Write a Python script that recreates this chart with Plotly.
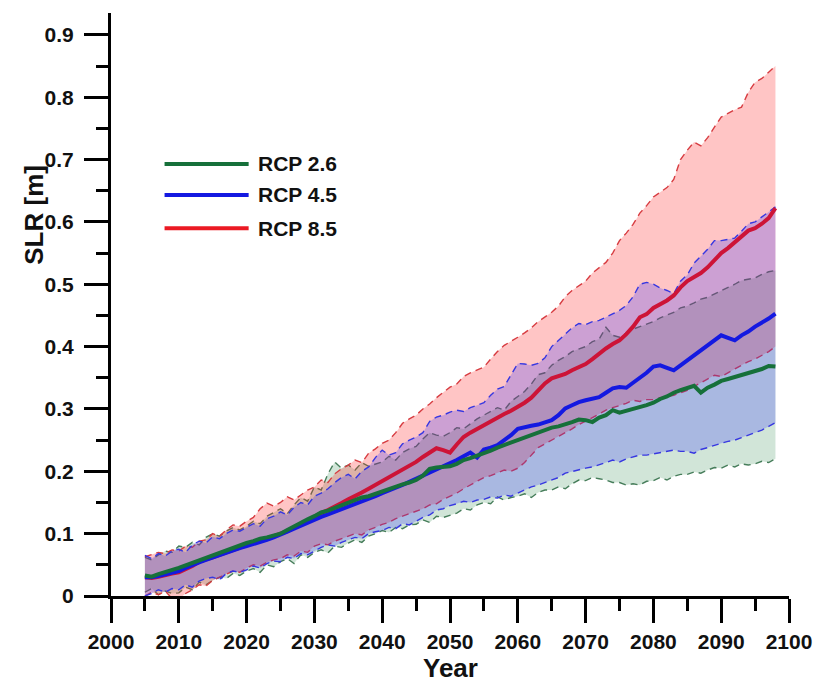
import plotly.graph_objects as go

years = list(range(2005, 2099))

g_mid = [.033, .031, .035, .038, .041,
         .045, .049, .053, .058, .062, .065, .070, .073, .077, .082,
         .085, .088, .092, .094, .097, .100, .106, .112, .117, .123,
         .128, .134, .137, .141, .146, .150, .153, .158, .160, .164,
         .168, .171, .176, .179, .182, .186, .193, .204, .206, .207,
         .208, .212, .218, .221, .225, .228, .233, .238, .242, .246,
         .250, .255, .259, .263, .267, .270, .272, .275, .279, .283,
         .282, .279, .286, .290, .298, .294, .297, .299, .303, .306,
         .310, .316, .320, .326, .330, .333, .337, .326, .334, .339,
         .345, .348, .351, .354, .357, .360, .364, .369, .368]
g_hi = [.062, .058, .066, .072, .070,
        .080, .078, .086, .082, .094, .100, .096, .104, .110, .106,
        .112, .120, .116, .128, .134, .140, .132, .146, .158, .152,
        .175, .170, .196, .215, .205, .210, .202, .214, .208, .212,
        .215, .224, .218, .230, .236, .240, .252, .262, .258, .256,
        .262, .270, .268, .276, .284, .290, .296, .302, .298, .312,
        .320, .328, .340, .355, .358, .370, .378, .384, .392, .396,
        .400, .408, .412, .431, .418, .415, .422, .428, .432, .436,
        .440, .446, .450, .455, .462, .465, .470, .476, .479, .484,
        .490, .494, .500, .506, .508, .510, .516, .520, .522]
g_lo = [.006, .012, .002, .008, .004,
        .005, .014, .010, .022, .018, .025, .030, .028, .036, .033,
        .040, .044, .038, .050, .047, .055, .060, .052, .066, .062,
        .070, .074, .069, .080, .078, .085, .090, .086, .096, .100,
        .105, .102, .110, .108, .114, .115, .122, .118, .128, .126,
        .130, .133, .140, .138, .146, .150, .148, .159, .154, .158,
        .160, .164, .158, .166, .170, .170, .175, .172, .180, .186,
        .185, .190, .188, .186, .182, .182, .178, .180, .178, .184,
        .185, .190, .186, .192, .195, .195, .199, .197, .202, .206,
        .205, .210, .207, .212, .210, .212, .216, .214, .220]

b_mid = [.030, .030, .032, .035, .038,
         .040, .045, .050, .054, .058, .062, .066, .070, .074, .077,
         .080, .083, .086, .090, .094, .098, .103, .108, .113, .118,
         .122, .127, .131, .135, .139, .143, .147, .152, .156, .160,
         .165, .169, .174, .178, .183, .188, .193, .198, .203, .207,
         .212, .218, .224, .230, .222, .235, .238, .242, .250, .258,
         .268, .271, .273, .275, .279, .282, .290, .301, .306, .311,
         .314, .316, .319, .326, .333, .335, .334, .342, .350, .358,
         .368, .370, .366, .362, .370, .378, .386, .394, .402, .410,
         .418, .414, .410, .418, .424, .432, .438, .445, .453]
b_hi = [.065, .060, .068, .064, .072,
        .075, .070, .082, .088, .085, .095, .092, .100, .106, .104,
        .110, .116, .112, .124, .128, .135, .130, .142, .150, .146,
        .160, .165, .172, .182, .190, .195, .188, .200, .207, .222,
        .234, .226, .230, .244, .250, .255, .262, .280, .287, .290,
        .295, .298, .296, .302, .306, .310, .322, .332, .336, .354,
        .373, .372, .370, .373, .382, .400, .410, .420, .430, .437,
        .435, .440, .442, .447, .452, .458, .466, .480, .500, .503,
        .500, .494, .490, .485, .505, .515, .534, .545, .556, .570,
        .570, .572, .574, .585, .597, .600, .608, .615, .624]
b_lo = [.000, .004, .010, .006, .012,
        .010, .018, .014, .024, .028, .030, .026, .036, .040, .038,
        .042, .048, .045, .052, .056, .055, .062, .060, .068, .066,
        .072, .078, .082, .080, .086, .090, .094, .092, .100, .103,
        .105, .110, .108, .116, .114, .120, .126, .130, .138, .140,
        .145, .148, .152, .150, .154, .155, .159, .157, .162, .160,
        .165, .170, .175, .178, .182, .185, .190, .197, .200, .203,
        .205, .207, .210, .214, .218, .215, .220, .223, .226, .226,
        .228, .230, .232, .234, .232, .232, .229, .235, .238, .242,
        .245, .248, .250, .254, .258, .262, .266, .272, .278]

r_mid = [.030, .029, .031, .034, .036,
         .038, .043, .048, .055, .058, .062, .066, .070, .074, .078,
         .082, .085, .089, .092, .096, .100, .104, .110, .116, .122,
         .128, .133, .138, .143, .149, .155, .160, .166, .172, .178,
         .185, .190, .196, .203, .209, .215, .223, .230, .237, .234,
         .230, .243, .255, .262, .268, .275, .280, .286, .292, .297,
         .303, .310, .318, .330, .341, .349, .352, .356, .362, .367,
         .372, .380, .389, .397, .404, .410, .420, .432, .447, .452,
         .462, .468, .474, .482, .495, .505, .511, .518, .527, .538,
         .550, .558, .568, .578, .586, .590, .597, .606, .622]
r_hi = [.063, .066, .070, .068, .074,
        .072, .080, .078, .088, .090, .100, .096, .106, .114, .112,
        .120, .126, .140, .149, .144, .150, .159, .154, .162, .170,
        .175, .186, .182, .196, .204, .210, .218, .214, .229, .236,
        .245, .250, .262, .277, .284, .290, .300, .308, .318, .326,
        .335, .340, .352, .358, .362, .367, .380, .392, .402, .408,
        .415, .422, .430, .440, .447, .455, .465, .480, .490, .498,
        .505, .518, .527, .535, .550, .570, .582, .596, .614, .626,
        .640, .648, .655, .668, .700, .715, .728, .722, .735, .752,
        .768, .774, .780, .784, .808, .824, .830, .840, .850]
r_lo = [.000, .006, .002, .008, -.004,
        -.005, .004, .010, .018, .016, .025, .030, .034, .040, .038,
        .045, .050, .048, .054, .058, .060, .066, .064, .072, .070,
        .080, .084, .082, .088, .092, .095, .100, .098, .106, .110,
        .115, .118, .124, .128, .132, .135, .140, .146, .148, .155,
        .160, .165, .172, .178, .184, .190, .193, .198, .202, .200,
        .205, .214, .226, .238, .244, .250, .256, .261, .268, .275,
        .280, .286, .292, .298, .302, .305, .309, .314, .312, .315,
        .315, .318, .320, .322, .326, .330, .336, .342, .348, .354,
        .352, .358, .364, .370, .376, .380, .386, .392, .400]

labels = ["RCP 2.6", "RCP 4.5", "RCP 8.5"]
x_ticks = list(range(2000, 2101, 10))

FONT = "Liberation Sans, Arial, sans-serif"

fig = go.Figure()

bands = [
    (g_lo, g_hi, "rgba(70,150,100,0.25)", "rgb(70,125,90)"),
    (r_lo, r_hi, "rgba(255,40,40,0.27)", "rgb(215,60,65)"),
    (b_lo, b_hi, "rgba(40,40,255,0.24)", "rgb(55,55,225)"),
]
for lo, hi, fillc, linec in bands:
    fig.add_trace(go.Scatter(x=years, y=lo, mode="lines",
                             line=dict(color=linec, width=1.4, dash="7px,5px"),
                             showlegend=False, hoverinfo="skip"))
    fig.add_trace(go.Scatter(x=years, y=hi, mode="lines", fill="tonexty",
                             fillcolor=fillc,
                             line=dict(color=linec, width=1.4, dash="7px,5px"),
                             showlegend=False, hoverinfo="skip"))

means = [
    (r_mid, "rgb(205,20,55)"),
    (b_mid, "rgb(20,25,225)"),
    (g_mid, "rgb(22,112,58)"),
]
for y, c in means:
    fig.add_trace(go.Scatter(x=years, y=y, mode="lines",
                             line=dict(color=c, width=4),
                             showlegend=False))

# custom legend
leg_colors = ["rgb(22,112,58)", "rgb(20,25,225)", "rgb(235,25,35)"]
leg_y = [0.741, 0.688, 0.631]
for lab, c, yy in zip(labels, leg_colors, leg_y):
    fig.add_shape(type="line", xref="paper", yref="paper",
                  x0=0.079, x1=0.203, y0=yy, y1=yy,
                  line=dict(color=c, width=4))
    fig.add_annotation(x=0.214, y=yy, xref="paper", yref="paper",
                       text=lab, showarrow=False, xanchor="left", yanchor="middle",
                       font=dict(family=FONT, size=21, color="#111", weight="bold"))

fig.add_annotation(x=0.5, y=-0.123, xref="paper", yref="paper", text="Year",
                   showarrow=False, xanchor="center", yanchor="middle",
                   font=dict(family=FONT, size=26, color="#111", weight="bold"))
fig.add_annotation(x=-0.114, y=0.6535, xref="paper", yref="paper", text="SLR [m]",
                   showarrow=False, textangle=-90, xanchor="center", yanchor="middle",
                   font=dict(family=FONT, size=26, color="#111", weight="bold"))

axis_common = dict(showline=True, linecolor="black", linewidth=3, mirror=False,
                   ticks="outside", ticklen=24, tickwidth=3, tickcolor="black",
                   showgrid=False, zeroline=False,
                   tickfont=dict(family=FONT, size=21, color="#111", weight="bold"))

fig.update_xaxes(range=[2000, 2100], tickvals=x_ticks, ticklabelstandoff=1,
                 minor=dict(ticks="outside", ticklen=12, tickwidth=3,
                            tickcolor="black", dtick=5, showgrid=False),
                 **axis_common)
fig.update_yaxes(range=[0, 0.935], dtick=0.1, tick0=0, ticklabelstandoff=6,
                 minor=dict(ticks="outside", ticklen=12, tickwidth=3,
                            tickcolor="black", dtick=0.05, showgrid=False),
                 **axis_common)

fig.update_layout(width=824, height=684,
                  margin=dict(l=111, r=27, t=13, b=88),
                  plot_bgcolor="white", paper_bgcolor="white",
                  showlegend=False)

fig.write_html("out.html")
